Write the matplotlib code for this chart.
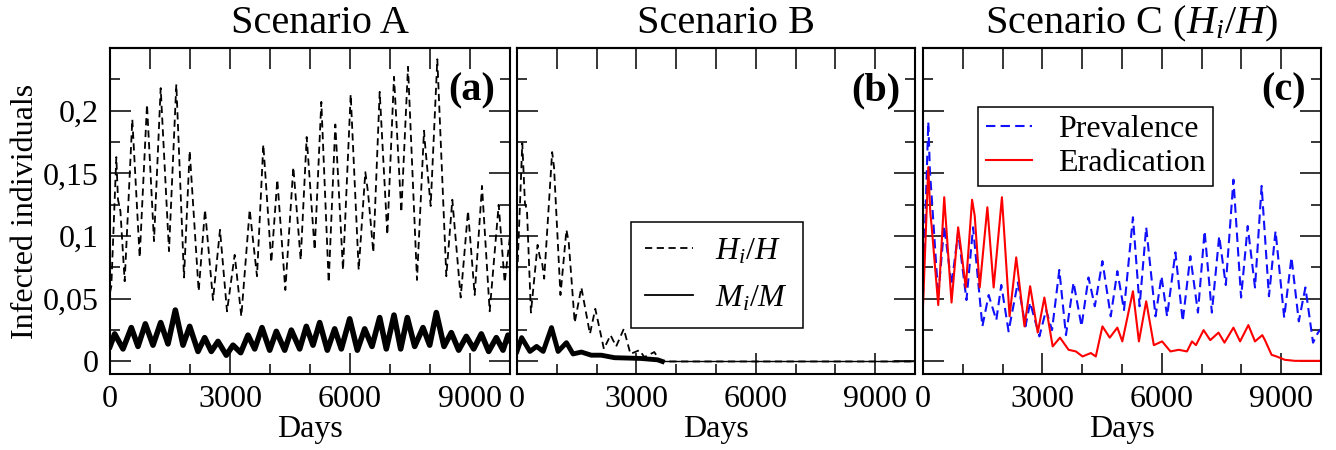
import matplotlib
matplotlib.use("Agg")
import matplotlib.pyplot as plt

# ---- data ----
# Scenario A: H_i/H (dashed) and M_i/M (solid)
a_h_days = [0, 33, 158, 200, 260, 367, 558, 742, 925, 1100, 1267, 1475, 1658, 1850, 1992,
            2217, 2375, 2575, 2750, 2925, 3117, 3283, 3492, 3675, 3833, 4033, 4183, 4383, 4583, 4767,
            4917, 5117, 5283, 5467, 5633, 5825, 6017, 6217, 6383, 6450, 6583, 6742, 6933, 7100, 7283,
            7450, 7675, 7850, 7880, 8017, 8183, 8408, 8558, 8767, 8950, 9117, 9300, 9492, 9717, 9867,
            10000]
a_h_vals = [0.055, 0.060, 0.163, 0.129, 0.120, 0.064, 0.193, 0.083, 0.205, 0.096, 0.218, 0.088, 0.221, 0.067, 0.168,
            0.056, 0.121, 0.049, 0.105, 0.040, 0.085, 0.036, 0.121, 0.068, 0.173, 0.079, 0.145, 0.057, 0.155, 0.081,
            0.179, 0.089, 0.207, 0.063, 0.189, 0.073, 0.213, 0.073, 0.151, 0.135, 0.087, 0.215, 0.101, 0.227, 0.119,
            0.235, 0.065, 0.184, 0.172, 0.124, 0.241, 0.068, 0.129, 0.051, 0.120, 0.053, 0.140, 0.040, 0.125, 0.063,
            0.100]
a_m_days = [0, 117, 325, 533, 700, 883, 1075, 1267, 1450, 1633, 1825, 1992, 2200, 2367, 2533,
            2700, 2908, 3075, 3267, 3450, 3617, 3800, 3992, 4158, 4367, 4533, 4742, 4908, 5075, 5242,
            5433, 5617, 5783, 5992, 6183, 6367, 6550, 6742, 6908, 7100, 7267, 7433, 7617, 7825, 7992,
            8158, 8350, 8533, 8717, 8908, 9092, 9283, 9467, 9658, 9825, 9950, 10000]
a_m_vals = [0.012, 0.022, 0.010, 0.027, 0.012, 0.030, 0.013, 0.031, 0.014, 0.041, 0.013, 0.028, 0.008, 0.019, 0.008,
            0.016, 0.005, 0.013, 0.007, 0.021, 0.010, 0.027, 0.009, 0.024, 0.009, 0.025, 0.010, 0.028, 0.013, 0.031,
            0.009, 0.026, 0.010, 0.034, 0.009, 0.026, 0.012, 0.035, 0.010, 0.037, 0.010, 0.035, 0.012, 0.027, 0.013,
            0.039, 0.012, 0.023, 0.009, 0.020, 0.010, 0.022, 0.008, 0.019, 0.009, 0.021, 0.017]

# Scenario B
b_h_days = [0, 17, 133, 200, 250, 350, 517, 575, 625, 683, 883, 930, 1092, 1242, 1300,
            1450, 1617, 1833, 1967, 2183, 2350, 2492, 2683, 2850, 3075, 3200, 3450, 3575, 3700, 10000]
b_h_vals = [0.070, 0.078, 0.174, 0.126, 0.121, 0.039, 0.093, 0.083, 0.080, 0.066, 0.167, 0.155, 0.053, 0.105, 0.095,
            0.031, 0.059, 0.022, 0.042, 0.010, 0.021, 0.012, 0.026, 0.006, 0.009, 0.0035, 0.0075, 0.0013, 0.0, 0.0]
b_m_days = [0, 117, 325, 492, 658, 867, 1033, 1242, 1408, 1617, 1867, 2117, 2450, 2783, 3117,
            3533, 3650, 10000]
b_m_vals = [0.008, 0.019, 0.008, 0.012, 0.008, 0.027, 0.008, 0.015, 0.006, 0.0075, 0.005, 0.005, 0.003, 0.0027, 0.0024,
            0.0013, 0.0, 0.0]

# Scenario C: prevalence (blue dashed) and eradication (red)
c_prev_days = [0, 133, 175, 217, 383, 533, 717, 883, 1092, 1258, 1492, 1650, 1842, 1967, 2150,
               2383, 2575, 2692, 2925, 3092, 3242, 3425, 3592, 3783, 3983, 4158, 4317, 4508, 4717, 4883,
               5050, 5275, 5442, 5608, 5842, 5992, 6133, 6342, 6525, 6717, 6908, 7075, 7258, 7442, 7608,
               7800, 7992, 8158, 8342, 8508, 8692, 8858, 9075, 9258, 9442, 9608, 9800, 9925, 10000]
c_prev_vals = [0.052, 0.191, 0.151, 0.132, 0.052, 0.108, 0.061, 0.103, 0.049, 0.107, 0.028, 0.053, 0.033, 0.061, 0.024,
               0.063, 0.028, 0.047, 0.020, 0.041, 0.025, 0.073, 0.021, 0.063, 0.028, 0.067, 0.044, 0.080, 0.036, 0.072,
               0.041, 0.115, 0.044, 0.107, 0.036, 0.068, 0.036, 0.087, 0.032, 0.084, 0.039, 0.104, 0.039, 0.100, 0.061,
               0.145, 0.051, 0.108, 0.059, 0.140, 0.052, 0.104, 0.035, 0.083, 0.032, 0.059, 0.015, 0.023, 0.026]
c_erad_days = [0, 133, 183, 217, 383, 533, 717, 883, 925, 1075, 1233, 1300, 1425, 1617, 1775,
               1983, 2175, 2342, 2550, 2692, 2883, 3050, 3258, 3442, 3658, 3842, 4008, 4217, 4342, 4508,
               4692, 4883, 5008, 5275, 5425, 5608, 5800, 6008, 6217, 6425, 6633, 6758, 6858, 7050, 7217,
               7425, 7575, 7800, 7967, 8175, 8342, 8525, 8592, 8758, 8883, 9092, 9342, 10000]
c_erad_vals = [0.044, 0.155, 0.119, 0.108, 0.045, 0.131, 0.047, 0.107, 0.097, 0.059, 0.129, 0.116, 0.059, 0.123, 0.059,
               0.131, 0.036, 0.083, 0.028, 0.060, 0.023, 0.051, 0.012, 0.019, 0.0093, 0.008, 0.004, 0.0067, 0.004, 0.028,
               0.019, 0.027, 0.016, 0.056, 0.016, 0.048, 0.013, 0.016, 0.008, 0.0093, 0.008, 0.016, 0.013, 0.025, 0.017,
               0.023, 0.015, 0.027, 0.016, 0.029, 0.016, 0.021, 0.017, 0.0053, 0.004, 0.0013, 0.0005, 0.0005]

titles = ["Scenario A", "Scenario B", "Scenario C ($H_i/H$)"]
panel_tags = ["(a)", "(b)", "(c)"]
x_major = [0, 3000, 6000, 9000]
x_minor = [1000, 2000, 4000, 5000, 7000, 8000]
x_top = [1000, 2000, 3000, 4000, 5000, 6000, 7000, 8000, 9000]
y_major = [0, 0.05, 0.1, 0.15, 0.2]
y_minor = [0.025, 0.075, 0.125, 0.175, 0.225]
y_labels = ["0", "0,05", "0,1", "0,15", "0,2"]

plt.rcParams["font.family"] = ["Liberation Serif", "DejaVu Serif"]
plt.rcParams["mathtext.fontset"] = "custom"
plt.rcParams["mathtext.rm"] = "Liberation Serif"
plt.rcParams["mathtext.it"] = "Liberation Serif:italic"
plt.rcParams["font.size"] = 23

fig = plt.figure(figsize=(13.36, 4.5), dpi=100)
W, H = 1336, 450
lefts = [110, 517, 923]
widths = [400, 398, 398]
top_px, bot_px = 48, 374
axes = [fig.add_axes([l / W, (H - bot_px) / H, w / W, (bot_px - top_px) / H])
        for l, w in zip(lefts, widths)]

for i, ax in enumerate(axes):
    ax.set_xlim(0, 10000)
    ax.set_ylim(-0.01, 0.25)
    for sp in ax.spines.values():
        sp.set_linewidth(1.5)
    ax.set_xticks(x_major)
    ax.set_xticks(x_minor, minor=True)
    ax.set_yticks(y_major)
    ax.set_yticks(y_minor, minor=True)
    ax.tick_params(which="major", direction="in", length=15, width=1.1,
                   left=True, right=True, bottom=True, top=False, pad=8)
    ax.tick_params(which="minor", direction="in", length=7.5, width=1.1,
                   left=True, right=True, bottom=True, top=False)
    top = ax.secondary_xaxis("top")
    top.set_xticks(x_top)
    top.tick_params(direction="in", length=15, width=1.1, labeltop=False)
    top.spines["top"].set_linewidth(1.5)
    if i == 0:
        ax.set_yticklabels(y_labels)
        ax.set_ylabel("Infected individuals", labelpad=2)
    else:
        ax.set_yticklabels([])
    ax.set_xlabel("Days", labelpad=1)
    ax.text(0.525, 1.045, titles[i], transform=ax.transAxes, ha="center",
            va="baseline", fontsize=29)
    ax.text(0.962, 0.84, panel_tags[i], transform=ax.transAxes, ha="right",
            va="baseline", fontsize=29, fontweight="bold")

# panel a
ax = axes[0]
ax.plot(a_h_days, a_h_vals, color="black", lw=1.3, dashes=(4, 2.5))
ax.plot(a_m_days, a_m_vals, color="black", lw=4.0, solid_joinstyle="round")

# panel b
ax = axes[1]
lh, = ax.plot(b_h_days, b_h_vals, color="black", lw=1.3, dashes=(4, 2.5), label="$H_i/H$")
ax.plot(b_m_days[:-1], b_m_vals[:-1], color="black", lw=3.5, solid_joinstyle="round")
ax.plot(b_m_days[-2:], b_m_vals[-2:], color="black", lw=1.0)
lm, = ax.plot([], [], color="black", lw=1.3, label="$M_i/M$")
leg = ax.legend(handles=[lh, lm], loc="upper left", bbox_to_anchor=(0.286, 0.465),
                borderaxespad=0, fancybox=False, edgecolor="black", framealpha=1,
                handlelength=1.5, handletextpad=0.7, labelspacing=0.55, borderpad=0.45,
                fontsize=23)
leg.get_frame().set_linewidth(1.1)

# panel c
ax = axes[2]
ax.plot(c_prev_days, c_prev_vals, color="#1010ff", lw=1.5, dashes=(4.5, 2.5), label="Prevalence")
ax.plot(c_erad_days, c_erad_vals, color="#ff0000", lw=1.5, label="Eradication")
leg = ax.legend(loc="upper left", bbox_to_anchor=(0.138, 0.82), borderaxespad=0,
                fancybox=False, edgecolor="black", framealpha=1, handlelength=1.45,
                handletextpad=0.8, labelspacing=0.15, borderpad=0.25, fontsize=23)
leg.get_frame().set_linewidth(1.1)

fig.savefig("out.png", dpi=100)
